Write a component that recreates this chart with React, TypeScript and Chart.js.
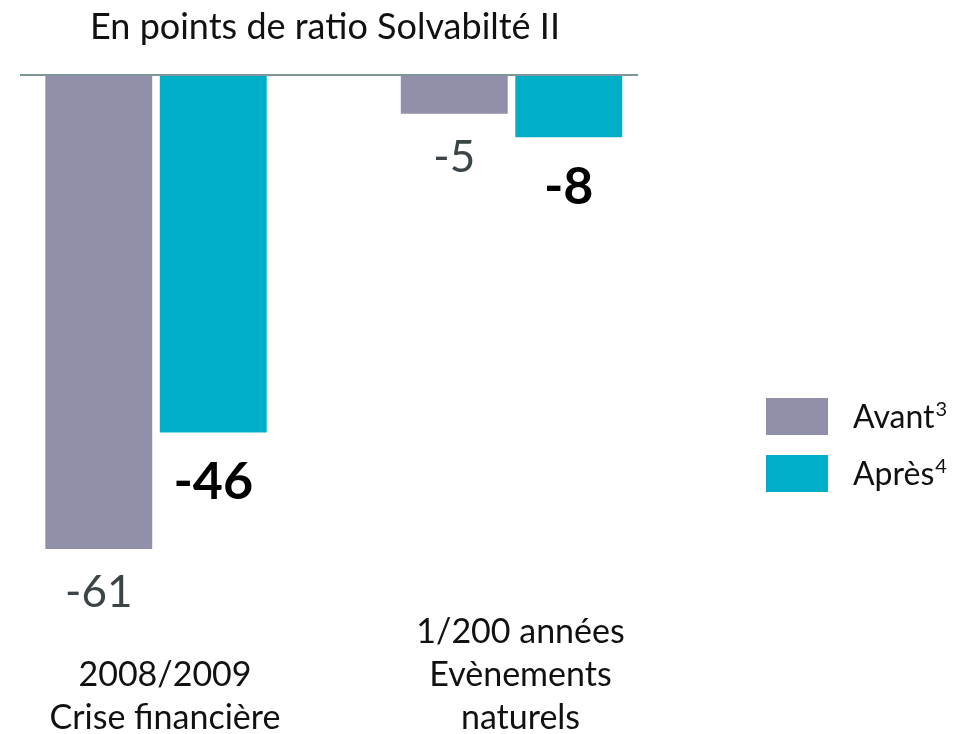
import React, { useEffect, useRef } from "react";
import { Chart, registerables } from "chart.js";

Chart.register(...registerables);

const chartTitle = "En points de ratio Solvabilté II";
const categories: string[][] = [
  ["2008/2009", "Crise financière"],
  ["1/200 années", "Evènements", "naturels"],
];
const seriesNames = ["Avant", "Après"];
const seriesSup = ["3", "4"];
const avantValues = [-61, -5];
const apresValues = [-46, -8];
const seriesColors = ["#9190ab", "#00afc7"];

const FONT = "Lato, 'Open Sans', sans-serif";

const decorPlugin = {
  id: "decor",
  afterDatasetsDraw(chart: any) {
    const { ctx, scales } = chart;
    const x = scales.x;
    const y = scales.y;
    const y0 = y.getPixelForValue(0);
    ctx.save();

    // baseline
    ctx.strokeStyle = "#7f9698";
    ctx.lineWidth = 2;
    ctx.beginPath();
    ctx.moveTo(20, y0);
    ctx.lineTo(638, y0);
    ctx.stroke();

    // title
    ctx.fillStyle = "#111111";
    ctx.font = `36px ${FONT}`;
    ctx.textAlign = "center";
    ctx.textBaseline = "alphabetic";
    ctx.fillText(chartTitle, 325, 39);

    // value labels
    chart.data.datasets.forEach((ds: any, di: number) => {
      const meta = chart.getDatasetMeta(di);
      meta.data.forEach((bar: any, i: number) => {
        const v = ds.data[i];
        if (di === 0) {
          ctx.font = `44px ${FONT}`;
          ctx.fillStyle = "#3b4446";
          ctx.fillText(String(v), bar.x, bar.y + 58);
        } else {
          ctx.font = `bold 52px ${FONT}`;
          ctx.fillStyle = "#000000";
          ctx.fillText(String(v), bar.x, bar.y + 67);
        }
      });
    });

    // category labels
    ctx.font = `34px ${FONT}`;
    ctx.fillStyle = "#111111";
    categories.forEach((lines, i) => {
      const cx = x.getPixelForValue(i) + 9;
      lines.forEach((line, j) => {
        const baseY = 729 - (lines.length - 1 - j) * 43;
        ctx.fillText(line, cx, baseY);
      });
    });

    // legend
    ctx.textAlign = "left";
    seriesNames.forEach((name, i) => {
      const top = 398 + i * 57;
      ctx.fillStyle = seriesColors[i];
      ctx.fillRect(766, top, 62, 37);
      ctx.fillStyle = "#111111";
      ctx.font = `32px ${FONT}`;
      ctx.fillText(name, 853, top + 30);
      const w = ctx.measureText(name).width;
      ctx.font = `20px ${FONT}`;
      ctx.fillText(seriesSup[i], 853 + w + 1, top + 18);
    });

    ctx.restore();
  },
};

export default function App() {
  const ref = useRef<HTMLCanvasElement>(null);
  useEffect(() => {
    document.body.style.margin = "0";
    const chart = new Chart(ref.current!, {
      type: "bar",
      data: {
        labels: categories.map((c) => c.join(" ")),
        datasets: [
          {
            label: seriesNames[0],
            data: avantValues,
            backgroundColor: seriesColors[0],
            clip: false as any,
          },
          {
            label: seriesNames[1],
            data: apresValues,
            backgroundColor: seriesColors[1],
            clip: false as any,
          },
        ],
      },
      options: {
        animation: false,
        responsive: false,
        maintainAspectRatio: false,
        layout: { padding: { left: 156, right: 452.5, top: 75, bottom: 37.4 } },
        datasets: {
          bar: { categoryPercentage: 0.644, barPercentage: 0.934, borderWidth: 0 },
        },
        plugins: { legend: { display: false }, tooltip: { enabled: false }, title: { display: false } },
        scales: {
          x: { display: false, offset: false, grid: { offset: false } },
          y: { display: false, min: -80, max: 0 },
        },
      },
      plugins: [decorPlugin],
    });
    return () => chart.destroy();
  }, []);
  return <canvas ref={ref} width={964} height={734} style={{ display: "block" }} />;
}
